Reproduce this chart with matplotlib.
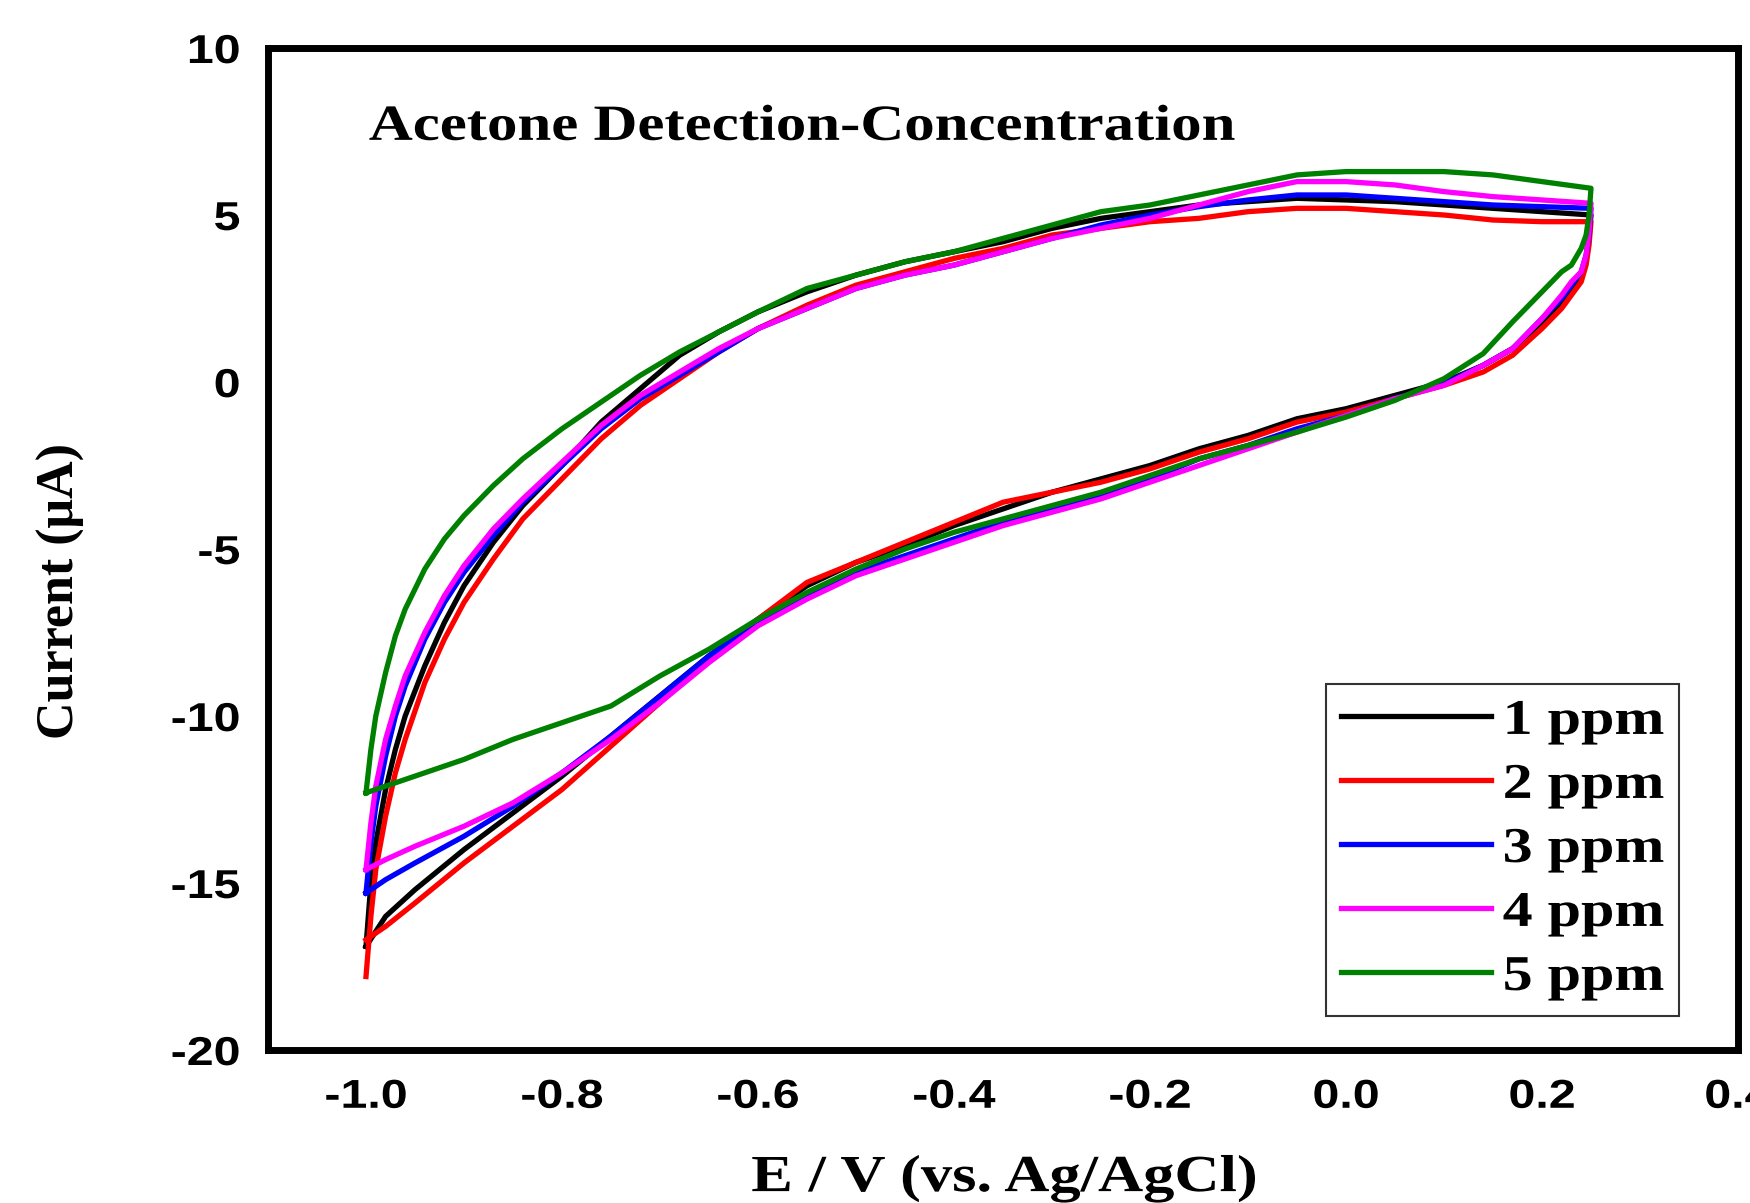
import matplotlib
matplotlib.use('Agg')
import matplotlib.pyplot as plt
from matplotlib import patheffects
from matplotlib.transforms import Affine2D

plt.rcParams['axes.unicode_minus'] = False

# potential grid (V vs Ag/AgCl): forward sweep then reverse sweep
e_fwd = [-1.0, -0.995, -0.99, -0.98, -0.97, -0.96, -0.94, -0.92, -0.90, -0.87, -0.84,
         -0.80, -0.76, -0.72, -0.68, -0.64, -0.60, -0.55, -0.50, -0.45, -0.40, -0.35,
         -0.30, -0.25, -0.20, -0.15, -0.10, -0.05, 0.0, 0.05, 0.10, 0.15, 0.20, 0.25]
e_rev = [0.25, 0.248, 0.245, 0.24, 0.23, 0.22, 0.20, 0.17, 0.14, 0.10, 0.05, 0.0,
         -0.05, -0.10, -0.15, -0.20, -0.25, -0.30, -0.35, -0.40, -0.45, -0.50, -0.55,
         -0.60, -0.65, -0.70, -0.75, -0.80, -0.85, -0.90, -0.95, -0.98, -1.0]

labels = ['1 ppm', '2 ppm', '3 ppm', '4 ppm', '5 ppm']
colors = ['black', 'red', 'blue', 'magenta', 'green']

# current (uA), forward sweep
i_fwd_1 = [-16.9, -15.0, -13.8, -12.2, -11.0, -10.0, -8.5, -7.2, -6.1, -4.8, -3.7,
           -2.5, -1.2, -0.2, 0.8, 1.5, 2.1, 2.7, 3.2, 3.6, 3.9, 4.2,
           4.6, 4.9, 5.1, 5.3, 5.4, 5.5, 5.45, 5.4, 5.3, 5.2, 5.1, 5.0]
i_fwd_2 = [-17.8, -16.0, -14.6, -13.0, -11.7, -10.7, -9.0, -7.7, -6.6, -5.3, -4.1,
           -2.9, -1.7, -0.7, 0.1, 0.9, 1.6, 2.3, 2.9, 3.3, 3.7, 4.0,
           4.4, 4.6, 4.8, 4.9, 5.1, 5.2, 5.2, 5.1, 5.0, 4.85, 4.8, 4.8]
i_fwd_3 = [-15.3, -13.8, -12.7, -11.2, -10.0, -9.1, -7.7, -6.6, -5.7, -4.6, -3.6,
           -2.5, -1.4, -0.5, 0.2, 0.9, 1.6, 2.2, 2.8, 3.2, 3.5, 3.9,
           4.3, 4.7, 5.0, 5.25, 5.45, 5.6, 5.6, 5.5, 5.4, 5.3, 5.25, 5.2]
i_fwd_4 = [-14.6, -13.2, -12.1, -10.7, -9.7, -8.8, -7.5, -6.4, -5.5, -4.4, -3.5,
           -2.4, -1.3, -0.4, 0.3, 1.0, 1.6, 2.2, 2.8, 3.2, 3.5, 3.9,
           4.3, 4.6, 4.9, 5.3, 5.7, 6.0, 6.0, 5.9, 5.7, 5.55, 5.45, 5.35]
i_fwd_5 = [-12.3, -11.0, -10.0, -8.7, -7.6, -6.8, -5.6, -4.7, -4.0, -3.1, -2.3,
           -1.4, -0.6, 0.2, 0.9, 1.5, 2.1, 2.8, 3.2, 3.6, 3.9, 4.3,
           4.7, 5.1, 5.3, 5.6, 5.9, 6.2, 6.3, 6.3, 6.3, 6.2, 6.0, 5.8]

# current (uA), reverse sweep
i_rev_1 = [5.0, 4.3, 3.7, 3.2, 2.8, 2.4, 1.8, 1.0, 0.5, 0.0, -0.4, -0.8,
           -1.1, -1.6, -2.0, -2.5, -2.9, -3.3, -3.8, -4.3, -4.9, -5.4, -6.1,
           -7.1, -8.2, -9.4, -10.6, -11.8, -12.9, -14.0, -15.2, -16.0, -16.9]
i_rev_2 = [4.8, 4.1, 3.5, 3.0, 2.6, 2.2, 1.6, 0.8, 0.3, -0.1, -0.5, -0.9,
           -1.2, -1.7, -2.1, -2.6, -3.0, -3.3, -3.6, -4.2, -4.8, -5.4, -6.0,
           -7.1, -8.3, -9.6, -10.9, -12.2, -13.3, -14.4, -15.6, -16.3, -16.7]
i_rev_3 = [5.2, 4.4, 3.8, 3.3, 2.9, 2.5, 1.9, 1.0, 0.5, -0.05, -0.5, -1.0,
           -1.4, -1.9, -2.3, -2.9, -3.4, -3.8, -4.2, -4.7, -5.2, -5.7, -6.4,
           -7.2, -8.2, -9.4, -10.6, -11.7, -12.7, -13.6, -14.4, -14.9, -15.3]
i_rev_4 = [5.35, 4.5, 3.8, 3.3, 3.0, 2.6, 1.9, 1.0, 0.5, -0.1, -0.5, -1.0,
           -1.5, -2.0, -2.5, -3.0, -3.5, -3.9, -4.3, -4.8, -5.3, -5.8, -6.5,
           -7.3, -8.4, -9.6, -10.7, -11.7, -12.6, -13.3, -13.9, -14.3, -14.6]
i_rev_5 = [5.8, 5.0, 4.4, 4.0, 3.5, 3.3, 2.7, 1.8, 0.85, 0.1, -0.55, -1.05,
           -1.5, -1.9, -2.3, -2.8, -3.3, -3.7, -4.1, -4.5, -5.0, -5.6, -6.3,
           -7.1, -8.0, -8.8, -9.7, -10.2, -10.7, -11.3, -11.8, -12.1, -12.3]

i_fwd = [i_fwd_1, i_fwd_2, i_fwd_3, i_fwd_4, i_fwd_5]
i_rev = [i_rev_1, i_rev_2, i_rev_3, i_rev_4, i_rev_5]

serif = 'Liberation Serif'
sans = 'Liberation Sans'
SX = 1.2  # the original figure's lettering is a bit wide


class StretchX(patheffects.AbstractPathEffect):
    """Widen glyphs horizontally around the left, centre or right of the text."""

    def __init__(self, sx, anchor='center'):
        super().__init__()
        self.sx = sx
        self.anchor = anchor

    def draw_path(self, renderer, gc, tpath, affine, rgbFace=None):
        ext = tpath.get_extents(affine)
        ax0 = {'left': ext.x0, 'center': 0.5 * (ext.x0 + ext.x1), 'right': ext.x1}[self.anchor]
        tr = affine + Affine2D().translate(-ax0, 0).scale(self.sx, 1).translate(ax0, 0)
        renderer.draw_path(gc, tpath, tr, rgbFace)


fig = plt.figure(figsize=(17.5, 12.03), dpi=100)
ax = fig.add_axes([268 / 1750, 1 - 1050 / 1203, 1470 / 1750, 1002 / 1203])

for fwd, rev, c, lab in zip(i_fwd, i_rev, colors, labels):
    ax.plot(e_fwd + e_rev, fwd + rev, color=c, lw=3.8, label=lab,
            solid_joinstyle='round')

ax.set_xlim(-1.1, 0.4)
ax.set_ylim(-20, 10)
ax.set_xticks([-1.0, -0.8, -0.6, -0.4, -0.2, 0.0, 0.2, 0.4])
ax.set_xticklabels(['-1.0', '-0.8', '-0.6', '-0.4', '-0.2', '0.0', '0.2', '0.4'])
ax.set_yticks([-20, -15, -10, -5, 0, 5, 10])
ax.tick_params(length=0, labelsize=29, pad=20)
for t in ax.get_xticklabels():
    t.set_fontfamily(sans)
    t.set_fontweight('bold')
    t.set_path_effects([StretchX(SX, 'center')])
for t in ax.get_yticklabels():
    t.set_fontfamily(sans)
    t.set_fontweight('bold')
    t.set_path_effects([StretchX(SX, 'right')])
for s in ax.spines.values():
    s.set_linewidth(5)

ax.set_xlabel('E / V (vs. Ag/AgCl)', fontsize=37.5, fontweight='bold',
              family=serif, va='center')
ax.xaxis.set_label_coords(0.501, -0.128)
ax.xaxis.label.set_path_effects([StretchX(SX, 'center')])
ax.set_ylabel('Current (\u03bcA)', fontsize=37.5, fontweight='bold',
              family=serif, va='center', ha='center')
ax.yaxis.set_label_coords(-0.141, 0.458)

ax.text(-0.997, 7.25, 'Acetone Detection-Concentration', fontsize=36.5,
        fontweight='bold', family=serif, va='baseline', ha='left',
        path_effects=[StretchX(SX, 'left')])

leg = ax.legend(loc='lower right', bbox_to_anchor=(0.960, 0.034), frameon=True,
                fancybox=False, framealpha=1, edgecolor='#333333',
                prop={'family': serif, 'weight': 'bold', 'size': 36},
                handlelength=3.0, handletextpad=0.76, labelspacing=0.36,
                borderpad=0.3, borderaxespad=0)
leg.get_frame().set_linewidth(1.5)
for t in leg.get_texts():
    t.set_path_effects([StretchX(SX, 'right')])

fig.savefig('out.png', dpi=100)
